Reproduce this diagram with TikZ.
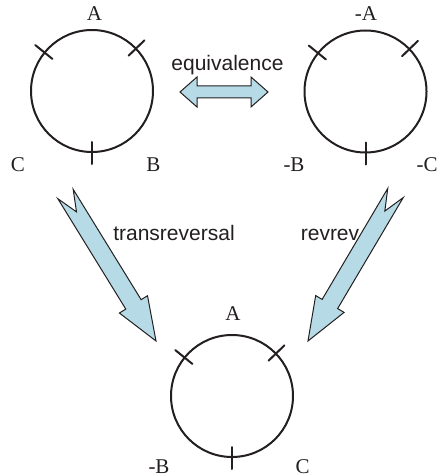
\documentclass[tikz,border=0pt]{standalone}
\usepackage{fontspec}
\setmainfont{Liberation Serif}
\setsansfont{Liberation Sans}
\usetikzlibrary{calc}
\definecolor{arrowblue}{RGB}{183,219,230}
\definecolor{inkgray}{RGB}{35,31,32}
\tikzset{
	ring/.style={circle,draw=inkgray,line width=1pt,minimum size=61pt,inner sep=0pt},
	tag/.style={font=\fontsize{10.5}{12}\selectfont,text=inkgray,inner sep=0pt},
	word/.style={font=\sffamily\fontsize{10.5}{12}\selectfont,text=inkgray,inner sep=0pt,anchor=base},
	fat/.style={draw=inkgray,line width=0.5pt,fill=arrowblue,line join=miter}
}
\newcommand{\fatarrow}[2]{%
	\path (#1) coordinate (f0) (#2) coordinate (f1)
	($(f1)!21.5pt!(f0)$) coordinate (fn)
	($(f0)!10.5pt!(f1)$) coordinate (fk);
	\draw[fat] ($(f0)!4.5pt!90:(f1)$) -- ($(fn)!4.5pt!90:(f1)$) -- ($(fn)!8.25pt!90:(f1)$) -- (f1)
	-- ($(fn)!8.25pt!-90:(f1)$) -- ($(fn)!4.5pt!-90:(f1)$) -- ($(f0)!4.5pt!-90:(f1)$) -- (fk) -- cycle;
}
\newcommand{\bothways}[2]{%
	\path (#1) coordinate (e1) (#2) coordinate (e2)
	($(e1)!8.5pt!(e2)$) coordinate (n1)
	($(e2)!8.5pt!(e1)$) coordinate (n2);
	\draw[fat] (e1) -- ($(n1)!7.5pt!90:(e2)$) -- ($(n1)!3pt!90:(e2)$) -- ($(n2)!3pt!-90:(e1)$)
	-- ($(n2)!7.5pt!-90:(e1)$) -- (e2) -- ($(n2)!7.5pt!90:(e1)$) -- ($(n2)!3pt!90:(e1)$)
	-- ($(n1)!3pt!-90:(e2)$) -- ($(n1)!7.5pt!-90:(e2)$) -- cycle;
}
\begin{document}
\begin{tikzpicture}[line join=round, line cap=round, x=0.5pt, y=-0.5pt]
	\useasboundingbox (0,0) rectangle (436,476);
	\node[ring] (c1) at (92,91) {};
	\node[ring] (c2) at (365.5,91.5) {};
	\node[ring] (c3) at (232,396) {};
	\foreach \c in {c1,c2,c3}{
		\foreach \a in {44,141,270}{
			\draw[inkgray,line width=1pt] (\c.center) ++(\a:25.5pt) -- ++(\a:11pt);
		};
	};
	\foreach \n/\x/\y/\t in {aA/94.5/14/A, aC/18/165/C, aB/153.5/165/B,
		bA/366/14/-A, bB/294/165/-B, bC/427/165/-C,
		cA/233/314/A, cB/159/467/-B, cC/302.5/467/C}{
		\node[tag] (\n) at (\x,\y) {\t};
	};
	\path
	(180,92) coordinate (eqL)
	(268,92) coordinate (eqR)
	(65.5,194) coordinate (trT)
	(156,341) coordinate (trH)
	(395.5,193) coordinate (rrT)
	(308,341) coordinate (rrH)
	;
	\bothways{eqL}{eqR}
	\fatarrow{trT}{trH}
	\fatarrow{rrT}{rrH}
	\node[word] (eq) at (227.5,71) {equivalence};
	\node[word] (tr) at (174,240) {transreversal};
	\node[word] (rr) at (330,240) {revrev};
\end{tikzpicture}
\end{document}
